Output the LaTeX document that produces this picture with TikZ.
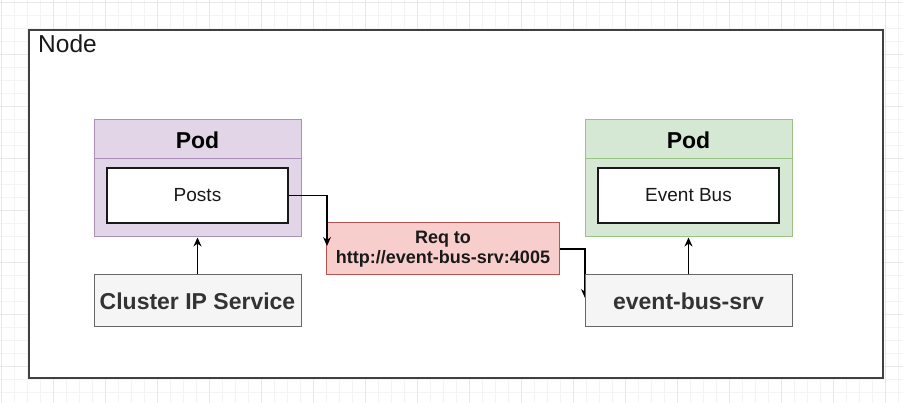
\documentclass[tikz,border=0pt]{standalone}
\usepackage{fontspec}
\setmainfont{Liberation Sans}
\usetikzlibrary{arrows.meta,calc}
\definecolor{podpurple}{HTML}{E1D5E7}
\definecolor{podpurpleline}{HTML}{9673A6}
\definecolor{podgreen}{HTML}{D5E8D4}
\definecolor{podgreenline}{HTML}{82B366}
\definecolor{reqfill}{HTML}{F8CECC}
\definecolor{reqline}{HTML}{B85450}
\definecolor{svcfill}{HTML}{F5F5F5}
\definecolor{svcline}{HTML}{666666}
\definecolor{darktext}{HTML}{333333}
\definecolor{gridminorc}{HTML}{F4F4F4}
\definecolor{gridmajorc}{HTML}{E8E8E8}
\pgfdeclarelayer{bg}
\pgfdeclarelayer{grid}
\pgfsetlayers{grid,bg,main}
\tikzset{
  gridminor/.style={draw=gridminorc, line width=0.6pt},
  gridmajor/.style={draw=gridmajorc, line width=0.8pt},
  frame/.style={draw=black!75, line width=1.6pt, fill=white, inner sep=0pt},
  podbox/.style={line width=1pt, inner sep=0pt, minimum width=207pt, minimum height=117pt},
  purplepod/.style={podbox, draw=podpurpleline!80, fill=podpurple},
  greenpod/.style={podbox, draw=podgreenline!80, fill=podgreen},
  podtitle/.style={font=\fontsize{23}{27}\selectfont\bfseries, text=black, inner sep=0pt},
  appbox/.style={draw=black!90, line width=1.2pt, fill=white, inner sep=0pt,
    minimum width=181pt, minimum height=55pt, font=\fontsize{19}{23}\selectfont, text=black!90},
  svcbox/.style={draw=svcline, line width=1pt, fill=svcfill, inner sep=0pt,
    minimum width=207pt, minimum height=52pt, font=\fontsize{23}{27}\selectfont\bfseries, text=darktext},
  reqbox/.style={draw=reqline, line width=1pt, fill=reqfill, inner sep=0pt,
    minimum width=233pt, minimum height=52pt, align=center,
    font=\fontsize{18}{20.5}\selectfont\bfseries, text=black!90},
  conn/.style={draw=black, line width=1.2pt, -{Stealth[length=9pt,width=8pt]}},
}
\begin{document}
\begin{tikzpicture}[x=1pt,y=-1pt]
\useasboundingbox (0,0) rectangle (903,403);
\begin{pgfonlayer}{grid}
  \fill[white] (0,0) rectangle (903,403);
  \foreach \i in {0,...,70} {
    \draw[gridminor] ({1+13*\i},0) -- ({1+13*\i},403);
  }
  \foreach \i in {0,...,31} {
    \draw[gridminor] (0,{2+13*\i}) -- (903,{2+13*\i});
  }
  \foreach \i in {0,...,17} {
    \draw[gridmajor] ({1+52*\i},0) -- ({1+52*\i},403);
  }
  \foreach \i in {0,...,7} {
    \draw[gridmajor] (0,{2+52*\i}) -- (903,{2+52*\i});
  }
\end{pgfonlayer}

\begin{pgfonlayer}{bg}
  \node[frame, minimum width=854pt, minimum height=348pt] (frame) at (456,204) {};
\end{pgfonlayer}
\node[anchor=base west, inner sep=0pt, font=\fontsize{24.5}{29}\selectfont, text=black!90] (nodelabel) at (38,53) {Node};

% left pod
\node[purplepod] (podL) at (197.5,178.5) {};
\draw[draw=podpurpleline!80, line width=1pt] ($(podL.north west)+(0,39)$) -- ($(podL.north east)+(0,39)$);
\node[podtitle] (podLtitle) at (197.5,140.5) {Pod};
\node[appbox] (posts) at (197.5,195.5) {Posts};
\node[svcbox] (cip) at (197.5,301) {Cluster IP Service};

% right pod
\node[greenpod] (podR) at (688.5,178.5) {};
\draw[draw=podgreenline!80, line width=1pt] ($(podR.north west)+(0,39)$) -- ($(podR.north east)+(0,39)$);
\node[podtitle] (podRtitle) at (688.5,140.5) {Pod};
\node[appbox] (evbus) at (688.5,195.5) {Event Bus};
\node[svcbox] (ebs) at (688.5,301) {event-bus-srv};

% request
\node[reqbox] (req) at (443,249) {Req to\\http://event-bus-srv:4005};

\coordinate (reqtip) at (327,246);
\coordinate (ebstip) at (585,298);

\draw[conn] (cip.north) -- (podL.south);
\draw[conn] (ebs.north) -- (podR.south);
\draw[conn] (posts.east) -| (reqtip);
\begin{pgfonlayer}{bg}
  \draw[conn] (req.east) -| (ebstip);
\end{pgfonlayer}
\end{tikzpicture}
\end{document}
